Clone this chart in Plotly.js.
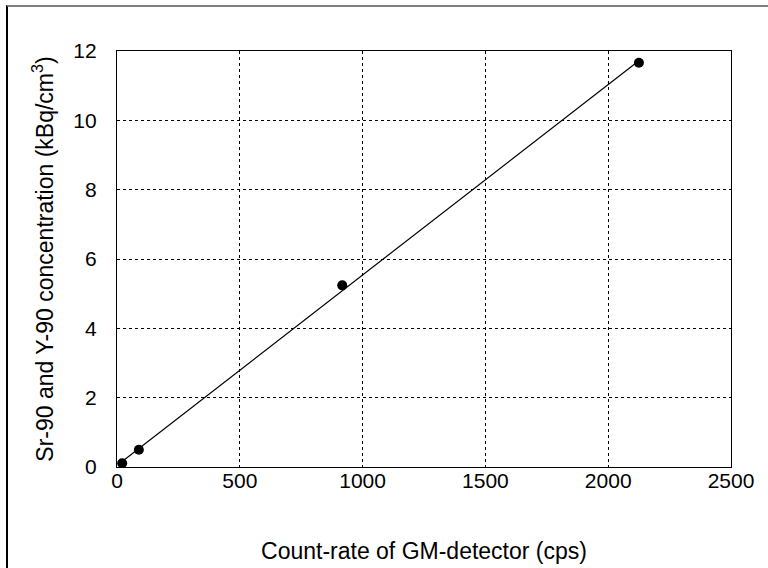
<!DOCTYPE html>
<html>
<head>
<meta charset="utf-8">
<script src="https://cdn.plot.ly/plotly-3.0.1.min.js"></script>
<style>
html,body{margin:0;padding:0;background:#fff;}
#wrap{position:absolute;left:0;top:0;width:768px;height:568px;}
#frame{position:absolute;left:6px;top:5px;width:762px;height:563px;border-top:2px solid #808080;border-left:2px solid #000;box-sizing:border-box;pointer-events:none;}
#chart{position:absolute;left:0;top:0;width:768px;height:568px;}
</style>
</head>
<body>
<div id="wrap"><div id="chart"></div><div id="frame"></div></div>
<script>
// Measured data points
const countRate = [21, 89, 917, 2125];
const concentration = [0.11, 0.50, 5.24, 11.66];
// Fitted calibration line (endpoints)
const fitX = [21, 2125];
const fitY = [0.16, 11.72];
// Axis ticks
const xTicks = [0, 500, 1000, 1500, 2000, 2500];
const yTicks = [0, 2, 4, 6, 8, 10, 12];

const fontFam = 'Liberation Sans, Arial, sans-serif';

const traces = [
  {x: fitX, y: fitY, type: 'scatter', mode: 'lines',
   line: {color: '#000', width: 1.2}, showlegend: false, hoverinfo: 'skip'},
  {x: countRate, y: concentration, type: 'scatter', mode: 'markers',
   marker: {color: '#000', size: 10}, showlegend: false}
];

const layout = {
  width: 768, height: 568,
  margin: {l: 116.5, r: 36.5, t: 50.7, b: 101},
  paper_bgcolor: '#fff', plot_bgcolor: '#fff',
  font: {family: fontFam, color: '#000', size: 21},
  xaxis: {
    range: [0, 2500], tickvals: xTicks, ticktext: xTicks.map(String),
    showgrid: true, gridcolor: '#000', griddash: 'dot', gridwidth: 1,
    showline: true, linecolor: '#000', linewidth: 1.2, mirror: true,
    zeroline: false, ticks: '', ticklabelstandoff: -5,
    tickfont: {size: 21, family: fontFam, color: '#000'},
    title: {text: 'Count-rate of GM-detector (cps)', font: {size: 23, family: fontFam, color: '#000'}, standoff: 51}
  },
  yaxis: {
    range: [0, 12], tickvals: yTicks, ticktext: yTicks.map(String),
    showgrid: true, gridcolor: '#000', griddash: 'dot', gridwidth: 1,
    showline: true, linecolor: '#000', linewidth: 1.2, mirror: true,
    zeroline: false, ticks: '', ticklabelstandoff: 15,
    tickfont: {size: 21, family: fontFam, color: '#000'},
    title: {text: 'Sr-90 and Y-90 concentration (kBq/cm<sup>3</sup>)', font: {size: 23, family: fontFam, color: '#000'}, standoff: 13}
  }
};

Plotly.newPlot('chart', traces, layout, {staticPlot: true, displayModeBar: false});
</script>
</body>
</html>
